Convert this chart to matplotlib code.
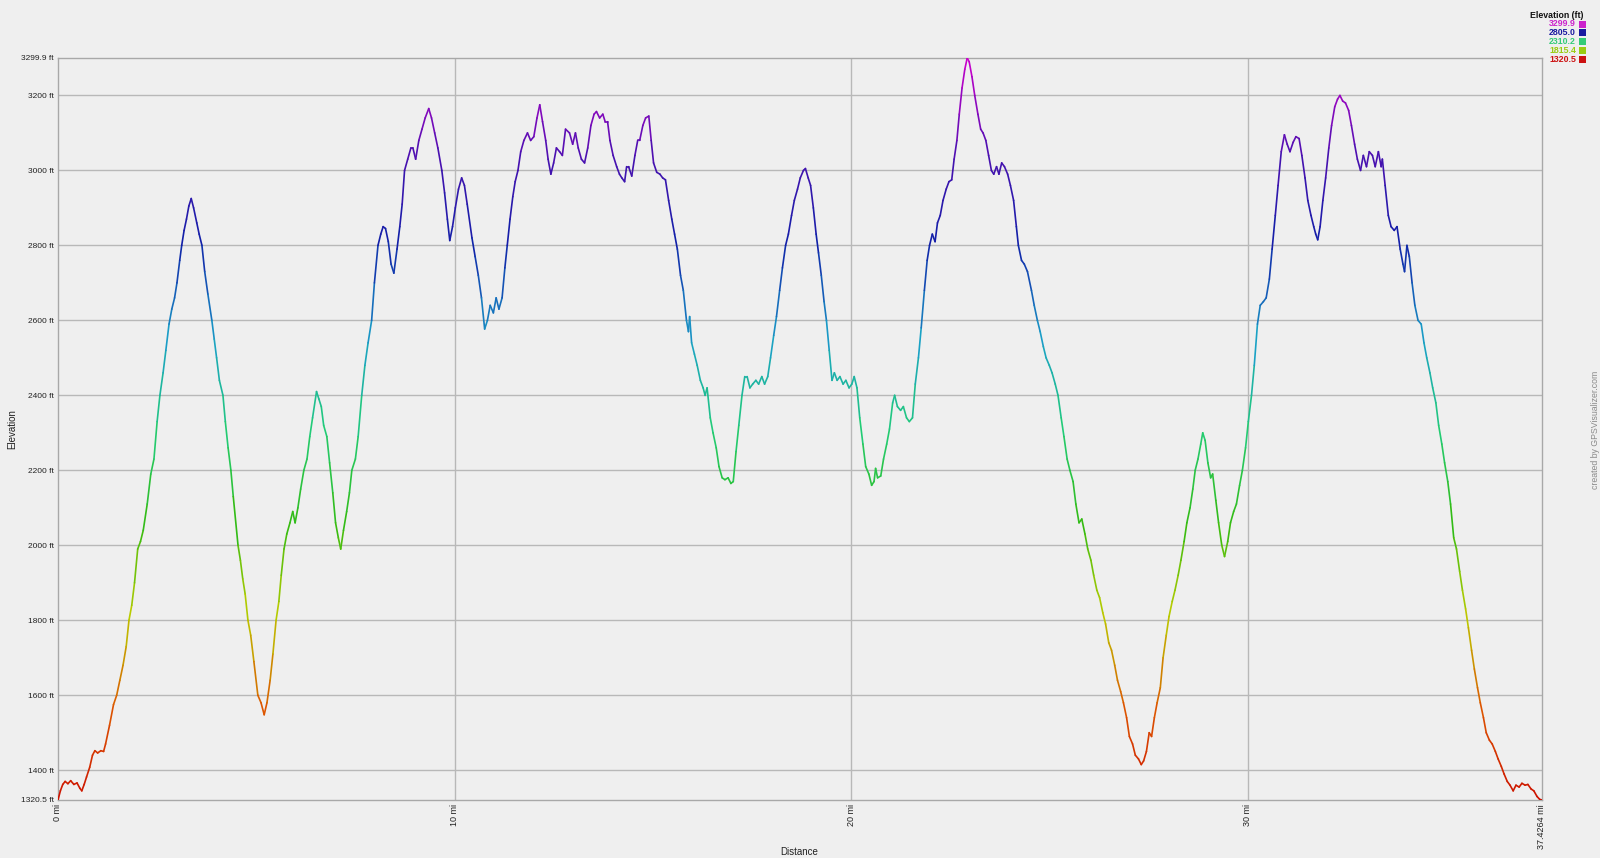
import matplotlib
matplotlib.use('Agg')
import numpy as np
import matplotlib.pyplot as plt
from matplotlib.collections import LineCollection
from matplotlib.colors import LinearSegmentedColormap, Normalize
from matplotlib.patches import Rectangle

plt.rcParams['font.family'] = ['Liberation Sans', 'DejaVu Sans']

# distance (mi) and elevation (ft)
distance = [
    0.00, 0.06, 0.12, 0.18, 0.25, 0.32, 0.40, 0.48, 0.55, 0.60, 0.66, 0.72, 0.80, 0.87, 0.93,
    1.00, 1.08, 1.15, 1.20, 1.30, 1.40, 1.48, 1.56, 1.64, 1.72, 1.79, 1.86, 1.93, 2.01, 2.08,
    2.15, 2.25, 2.34, 2.42, 2.50, 2.57, 2.65, 2.72, 2.80, 2.87, 2.94, 3.00, 3.07, 3.12, 3.18,
    3.24, 3.30, 3.36, 3.42, 3.50, 3.56, 3.63, 3.70, 3.78, 3.88, 3.94, 4.00, 4.07, 4.16, 4.22,
    4.29, 4.36, 4.42, 4.54, 4.60, 4.66, 4.72, 4.79, 4.86, 4.94, 5.04, 5.12, 5.20, 5.27, 5.35,
    5.42, 5.50, 5.57, 5.63, 5.70, 5.77, 5.85, 5.92, 5.98, 6.05, 6.12, 6.20, 6.28, 6.35, 6.42,
    6.52, 6.58, 6.64, 6.70, 6.78, 6.85, 6.93, 7.00, 7.07, 7.13, 7.20, 7.28, 7.35, 7.41, 7.50,
    7.57, 7.66, 7.74, 7.82, 7.91, 7.98, 8.07, 8.14, 8.20, 8.26, 8.33, 8.40, 8.47, 8.55, 8.62,
    8.68, 8.74, 8.82, 8.90, 8.95, 9.02, 9.10, 9.18, 9.26, 9.35, 9.42, 9.50, 9.58, 9.68, 9.75,
    9.82, 9.88, 9.95, 10.02, 10.10, 10.18, 10.25, 10.32, 10.44, 10.52, 10.60, 10.68, 10.76, 10.83,
    10.90, 10.98, 11.05, 11.12, 11.20, 11.27, 11.33, 11.40, 11.47, 11.53, 11.60, 11.67, 11.75,
    11.84, 11.92, 12.00, 12.08, 12.15, 12.22, 12.30, 12.36, 12.43, 12.50, 12.57, 12.65, 12.72,
    12.80, 12.90, 12.98, 13.05, 13.12, 13.20, 13.28, 13.36, 13.44, 13.52, 13.58, 13.66, 13.74,
    13.80, 13.86, 13.92, 14.00, 14.09, 14.16, 14.22, 14.29, 14.34, 14.39, 14.47, 14.55, 14.62,
    14.67, 14.75, 14.82, 14.90, 14.96, 15.02, 15.10, 15.18, 15.25, 15.32, 15.40, 15.48, 15.55,
    15.62, 15.70, 15.77, 15.85, 15.90, 15.93, 15.98, 16.05, 16.12, 16.20, 16.27, 16.32, 16.37,
    16.45, 16.52, 16.60, 16.67, 16.75, 16.82, 16.90, 16.97, 17.03, 17.10, 17.17, 17.25, 17.32,
    17.38, 17.45, 17.52, 17.60, 17.67, 17.75, 17.82, 17.90, 17.97, 18.05, 18.12, 18.20, 18.27,
    18.35, 18.42, 18.50, 18.57, 18.65, 18.72, 18.80, 18.85, 18.92, 18.98, 19.05, 19.12, 19.18,
    19.25, 19.32, 19.38, 19.45, 19.52, 19.58, 19.65, 19.72, 19.80, 19.87, 19.95, 20.02, 20.08,
    20.15, 20.22, 20.30, 20.37, 20.45, 20.52, 20.58, 20.62, 20.67, 20.75, 20.82, 20.90, 20.97,
    21.05, 21.10, 21.17, 21.25, 21.32, 21.40, 21.47, 21.55, 21.62, 21.70, 21.77, 21.85, 21.92,
    21.98, 22.05, 22.12, 22.18, 22.25, 22.32, 22.40, 22.47, 22.54, 22.60, 22.67, 22.73, 22.80,
    22.87, 22.93, 22.98, 23.05, 23.12, 23.20, 23.27, 23.33, 23.40, 23.47, 23.54, 23.60, 23.67,
    23.73, 23.80, 23.87, 23.95, 24.02, 24.10, 24.17, 24.22, 24.30, 24.37, 24.45, 24.55, 24.62,
    24.70, 24.77, 24.85, 24.92, 25.00, 25.07, 25.15, 25.22, 25.30, 25.37, 25.45, 25.52, 25.60,
    25.67, 25.75, 25.82, 25.90, 25.97, 26.05, 26.12, 26.20, 26.27, 26.35, 26.42, 26.50, 26.57,
    26.65, 26.72, 26.80, 26.87, 26.95, 27.02, 27.10, 27.17, 27.25, 27.32, 27.38, 27.45, 27.52,
    27.58, 27.65, 27.72, 27.80, 27.87, 27.95, 28.02, 28.10, 28.17, 28.25, 28.32, 28.40, 28.47,
    28.55, 28.62, 28.68, 28.75, 28.82, 28.87, 28.93, 29.00, 29.07, 29.12, 29.20, 29.27, 29.35,
    29.42, 29.50, 29.57, 29.65, 29.72, 29.80, 29.87, 29.95, 30.02, 30.10, 30.17, 30.25, 30.32,
    30.40, 30.47, 30.55, 30.62, 30.70, 30.77, 30.85, 30.93, 31.00, 31.07, 31.15, 31.22, 31.30,
    31.37, 31.45, 31.52, 31.60, 31.67, 31.72, 31.77, 31.83, 31.90, 31.97, 32.05, 32.12, 32.20,
    32.27, 32.33, 32.40, 32.47, 32.55, 32.62, 32.70, 32.77, 32.85, 32.92, 33.00, 33.07, 33.15,
    33.22, 33.30, 33.37, 33.40, 33.47, 33.55, 33.62, 33.70, 33.77, 33.85, 33.92, 33.96, 34.02,
    34.08, 34.15, 34.22, 34.30, 34.38, 34.45, 34.52, 34.60, 34.67, 34.75, 34.82, 34.90, 34.97,
    35.05, 35.12, 35.20, 35.27, 35.35, 35.42, 35.50, 35.57, 35.65, 35.72, 35.80, 35.87, 35.95,
    36.02, 36.10, 36.17, 36.25, 36.32, 36.40, 36.47, 36.55, 36.62, 36.70, 36.77, 36.85, 36.92,
    37.00, 37.07, 37.15, 37.22, 37.30, 37.37, 37.4264,
]
elevation = [
    1320.5, 1345, 1362, 1370, 1364, 1372, 1362, 1366, 1352, 1345, 1362, 1382, 1408, 1440, 1452,
    1446, 1452, 1450, 1470, 1520, 1575, 1600, 1640, 1680, 1730, 1800, 1840, 1900, 1990, 2010,
    2040, 2110, 2190, 2230, 2330, 2400, 2460, 2520, 2590, 2630, 2660, 2700, 2760, 2800, 2840,
    2870, 2905, 2925, 2900, 2860, 2830, 2800, 2730, 2670, 2600, 2550, 2500, 2440, 2400, 2330,
    2260, 2200, 2130, 2000, 1960, 1910, 1870, 1800, 1760, 1690, 1600, 1580, 1548, 1580, 1640,
    1710, 1800, 1850, 1920, 1990, 2030, 2060, 2090, 2060, 2100, 2150, 2200, 2230, 2290, 2340,
    2410, 2390, 2370, 2320, 2290, 2220, 2140, 2060, 2020, 1990, 2040, 2090, 2140, 2200, 2230,
    2290, 2400, 2480, 2540, 2600, 2700, 2800, 2830, 2850, 2845, 2810, 2750, 2726, 2790, 2850,
    2910, 3000, 3030, 3060, 3060, 3030, 3080, 3110, 3140, 3165, 3140, 3100, 3060, 3000, 2940,
    2870, 2813, 2850, 2900, 2950, 2980, 2960, 2910, 2820, 2770, 2720, 2660, 2577, 2600,
    2640, 2620, 2660, 2630, 2660, 2740, 2800, 2870, 2930, 2970, 3000, 3050, 3080,
    3100, 3080, 3090, 3140, 3175, 3130, 3080, 3030, 2990, 3020, 3060, 3050, 3040,
    3110, 3100, 3070, 3100, 3060, 3030, 3020, 3060, 3120, 3150, 3157, 3140, 3150,
    3130, 3130, 3080, 3040, 3010, 2990, 2980, 2970, 3010, 3010, 2985, 3040, 3080,
    3080, 3120, 3140, 3145, 3080, 3020, 2995, 2990, 2980, 2975, 2920, 2870, 2830,
    2790, 2720, 2680, 2600, 2570, 2610, 2540, 2510, 2480, 2440, 2420, 2400, 2420,
    2340, 2300, 2260, 2210, 2180, 2175, 2180, 2165, 2170, 2250, 2320, 2400, 2450,
    2450, 2420, 2430, 2440, 2430, 2450, 2430, 2450, 2500, 2560, 2610, 2680, 2740,
    2800, 2830, 2880, 2920, 2950, 2980, 3000, 3005, 2980, 2960, 2900, 2830, 2780,
    2720, 2650, 2600, 2520, 2440, 2460, 2440, 2450, 2430, 2440, 2420, 2430, 2450,
    2420, 2340, 2270, 2210, 2190, 2160, 2170, 2205, 2180, 2185, 2230, 2270, 2310,
    2380, 2400, 2370, 2360, 2370, 2340, 2330, 2340, 2430, 2500, 2580, 2680, 2760,
    2800, 2830, 2810, 2860, 2880, 2920, 2950, 2970, 2975, 3030, 3080, 3150, 3220,
    3270, 3299.9, 3290, 3250, 3200, 3150, 3110, 3100, 3080, 3040, 3000, 2990, 3010,
    2990, 3020, 3010, 2990, 2960, 2920, 2850, 2800, 2760, 2750, 2730, 2680, 2640,
    2600, 2570, 2530, 2500, 2480, 2460, 2430, 2400, 2340, 2290, 2230, 2200, 2170,
    2110, 2060, 2070, 2030, 1990, 1960, 1920, 1880, 1860, 1820, 1790, 1740, 1720,
    1680, 1640, 1610, 1580, 1540, 1490, 1470, 1440, 1430, 1415, 1425, 1450, 1500,
    1490, 1540, 1580, 1620, 1700, 1760, 1810, 1850, 1880, 1920, 1960, 2010, 2060,
    2100, 2150, 2200, 2230, 2270, 2300, 2280, 2220, 2180, 2190, 2120, 2060, 2000,
    1970, 2010, 2060, 2090, 2110, 2160, 2200, 2260, 2330, 2400, 2480, 2590, 2640,
    2650, 2660, 2710, 2790, 2880, 2960, 3050, 3095, 3070, 3050, 3075, 3090, 3085,
    3040, 2980, 2920, 2880, 2850, 2830, 2815, 2850, 2920, 2980, 3060, 3120, 3170,
    3190, 3200, 3185, 3180, 3160, 3120, 3070, 3030, 3000, 3040, 3010, 3050, 3040,
    3010, 3050, 3010, 3030, 2960, 2880, 2850, 2840, 2850, 2790, 2750, 2730, 2800,
    2770, 2700, 2640, 2600, 2590, 2540, 2500, 2460, 2420, 2380, 2320, 2270, 2220,
    2170, 2110, 2020, 1990, 1930, 1880, 1830, 1780, 1720, 1670, 1620, 1580, 1540,
    1500, 1480, 1470, 1450, 1430, 1410, 1390, 1370, 1360, 1345, 1360, 1355, 1365,
    1360, 1362, 1350, 1345, 1330, 1322, 1320.5,
]

y_ticks = [1320.5, 1400, 1600, 1800, 2000, 2200, 2400, 2600, 2800, 3000, 3200, 3299.9]
y_labels = ['1320.5 ft', '1400 ft', '1600 ft', '1800 ft', '2000 ft', '2200 ft', '2400 ft',
            '2600 ft', '2800 ft', '3000 ft', '3200 ft', '3299.9 ft']
x_ticks = [0, 10, 20, 30, 37.4264]
x_labels = ['0 mi', '10 mi', '20 mi', '30 mi', '37.4264 mi']

legend_values = ['3299.9', '2805.0', '2310.2', '1815.4', '1320.5']
legend_colors = ['#cc22cc', '#1a1aa0', '#33cc77', '#99cc11', '#cc1111']

bg = '#efefef'
grid_col = '#b8b8b8'

# red -> yellow -> green -> cyan -> blue -> magenta, like the GPS Visualizer scale
cmap = LinearSegmentedColormap.from_list('elev', [
    (0.00, '#cc1100'), (0.12, '#dd5500'), (0.25, '#bbcc00'), (0.37, '#33bb11'),
    (0.50, '#22cc77'), (0.62, '#1aa0c8'), (0.75, '#1020a8'), (0.87, '#4a10b0'),
    (1.00, '#cc00cc')])

fig = plt.figure(figsize=(16, 8.58), dpi=100, facecolor=bg)
ax = fig.add_axes([58 / 1600, 1 - 800 / 858, (1542 - 58) / 1600, 742 / 858])
ax.set_facecolor(bg)

x = np.array(distance)
y = np.array(elevation)
pts = np.column_stack([x, y]).reshape(-1, 1, 2)
segs = np.concatenate([pts[:-1], pts[1:]], axis=1)
norm = Normalize(1320.5, 3299.9)
lc = LineCollection(segs, colors=cmap(norm((y[:-1] + y[1:]) / 2)), linewidths=1.2,
                    capstyle='round', joinstyle='round', zorder=3)
ax.add_collection(lc)

ax.set_xlim(0, 37.4264)
ax.set_ylim(1320.5, 3299.9)
ax.set_yticks(y_ticks)
ax.set_yticklabels(y_labels, fontsize=6)
ax.set_xticks(x_ticks)
ax.set_xticklabels(x_labels, fontsize=6.5, rotation=90)
ax.tick_params(length=0, pad=3, colors='#222222')

for v in y_ticks[1:-1]:
    ax.axhline(v, color=grid_col, lw=1, zorder=1)
for v in x_ticks[1:-1]:
    ax.axvline(v, color=grid_col, lw=1, zorder=1)
for s in ax.spines.values():
    s.set_color('#a8a8a8')
    s.set_linewidth(1)

fig.text(12 / 1600, 1 - 429 / 858, 'Elevation', rotation=90, ha='center', va='center',
         fontsize=7, color='#222222')
fig.text(799 / 1600, 1 - 852 / 858, 'Distance', ha='center', va='center',
         fontsize=7, color='#222222')
fig.text(1595 / 1600, 1 - 430 / 858, 'created by GPSVisualizer.com', rotation=90,
         ha='center', va='center', fontsize=6.3, color='#8a8a8a')

# legend (top right)
fig.text(1557 / 1600, 1 - 15 / 858, 'Elevation (ft)', ha='center', va='center',
         fontsize=6.3, fontweight='bold', color='#111111')
for i, (lab, col) in enumerate(zip(legend_values, legend_colors)):
    yc = 24 + i * 8.9
    fig.text(1576 / 1600, 1 - yc / 858, lab, ha='right', va='center',
             fontsize=6.3, fontweight='bold', color=col)
    fig.patches.append(Rectangle((1579 / 1600, 1 - (yc + 3.5) / 858), 7 / 1600, 7 / 858,
                                 transform=fig.transFigure, facecolor=col,
                                 edgecolor='none'))

fig.savefig('out.png', dpi=100, facecolor=bg)
